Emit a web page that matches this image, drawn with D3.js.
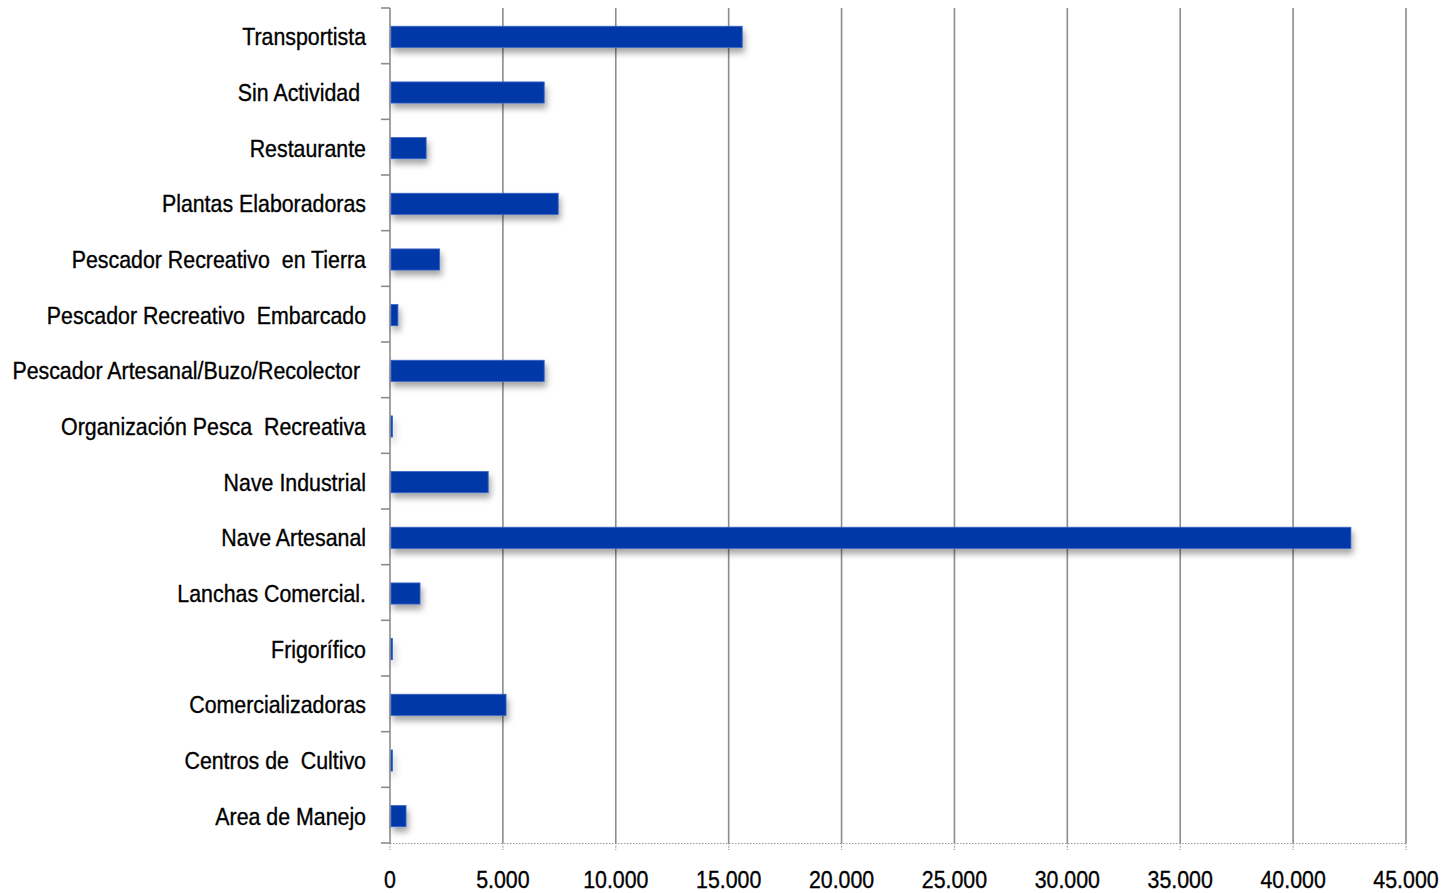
<!DOCTYPE html>
<html>
<head>
<meta charset="utf-8">
<script src="https://cdn.jsdelivr.net/npm/d3@7"></script>
<style>
  html, body { margin: 0; padding: 0; background: #fff; }
  svg { display: block; }
  .lbl { font-family: "Liberation Sans Narrow", "Arial Narrow", "Liberation Sans", sans-serif; fill: #000; stroke: #000; stroke-width: 0.35; white-space: pre; }
</style>
</head>
<body>
<svg id="chart" width="1454" height="893"></svg>
<script>
// categories top to bottom
const categories = [
  "Transportista", "Sin Actividad ", "Restaurante", "Plantas Elaboradoras",
  "Pescador Recreativo  en Tierra", "Pescador Recreativo  Embarcado",
  "Pescador Artesanal/Buzo/Recolector ", "Organización Pesca  Recreativa",
  "Nave Industrial", "Nave Artesanal", "Lanchas Comercial.", "Frigorífico",
  "Comercializadoras", "Centros de  Cultivo", "Area de Manejo"
];
const values = [15600, 6830, 1600, 7450, 2200, 350, 6830, 60, 4350, 42560, 1330, 60, 5140, 60, 710];
const xTicks = [0, 5000, 10000, 15000, 20000, 25000, 30000, 35000, 40000, 45000];

const W = 1454, H = 893;
const m = { left: 390, right: 48, top: 8, bottom: 50 };
const NARROW = 0.89;

const svg = d3.select("#chart");
const x = d3.scaleLinear().domain([0, 45000]).range([m.left, W - m.right]);
const y = d3.scaleBand().domain(categories).range([m.top, H - m.bottom]).paddingInner(0.62).paddingOuter(0.31);
const fmt = v => d3.format(",")(v).replace(/,/g, ".");

const defs = svg.append("defs");
const f = defs.append("filter").attr("id", "shadow").attr("x", "-5%").attr("y", "-50%").attr("width", "115%").attr("height", "250%");
f.append("feDropShadow").attr("dx", 2).attr("dy", 5).attr("stdDeviation", 3)
  .attr("flood-color", "#000").attr("flood-opacity", 0.35);

// vertical grid
svg.append("g").selectAll("line").data(xTicks.slice(1)).join("line")
  .attr("x1", d => x(d)).attr("x2", d => x(d))
  .attr("y1", m.top).attr("y2", H - m.bottom)
  .attr("stroke", "#8c8c8c").attr("stroke-width", 1.6);

// bottom axis (dotted)
svg.append("line")
  .attr("x1", m.left).attr("x2", x(45000))
  .attr("y1", H - m.bottom + 0.5).attr("y2", H - m.bottom + 0.5)
  .attr("stroke", "#999").attr("stroke-width", 1).attr("stroke-dasharray", "1.5,1.5");
svg.append("g").selectAll("line").data(xTicks).join("line")
  .attr("x1", d => x(d)).attr("x2", d => x(d))
  .attr("y1", H - m.bottom).attr("y2", H - m.bottom + 7)
  .attr("stroke", "#999").attr("stroke-width", 1.2).attr("stroke-dasharray", "1.5,1.5");
svg.append("g").selectAll("g").data(xTicks).join("g")
  .attr("transform", d => `translate(${x(d)},${H - 5}) scale(${NARROW},1)`)
  .append("text")
  .attr("class", "lbl")
  .attr("text-anchor", "middle").attr("font-size", 24)
  .text(d => fmt(d));

// left axis with ticks between categories
const step = y.step();
const tickYs = d3.range(categories.length + 1).map(i => m.top + i * step);
svg.append("line")
  .attr("x1", m.left).attr("x2", m.left)
  .attr("y1", m.top).attr("y2", H - m.bottom)
  .attr("stroke", "#8c8c8c").attr("stroke-width", 1.6);
svg.append("g").selectAll("line").data(tickYs).join("line")
  .attr("x1", m.left - 9).attr("x2", m.left)
  .attr("y1", d => d).attr("y2", d => d)
  .attr("stroke", "#8c8c8c").attr("stroke-width", 1.6);

// bars
svg.append("g").attr("filter", "url(#shadow)").selectAll("rect")
  .data(categories.map((c, i) => ({ c, v: values[i] }))).join("rect")
  .attr("x", m.left + 1)
  .attr("y", d => y(d.c) + 1)
  .attr("width", d => Math.max(1.5, x(d.v) - m.left - 1))
  .attr("height", y.bandwidth())
  .attr("fill", "#0038a8")
  .attr("stroke", "#3a64c4").attr("stroke-width", 0.8);

// category labels
svg.append("g").selectAll("g").data(categories).join("g")
  .attr("transform", d => `translate(${m.left - 24},${y(d) + y.bandwidth() / 2 + 1}) scale(${NARROW},1)`)
  .append("text")
  .attr("class", "lbl")
  .attr("dy", "0.36em")
  .attr("text-anchor", "end").attr("font-size", 24)
  .text(d => d);
</script>
</body>
</html>
